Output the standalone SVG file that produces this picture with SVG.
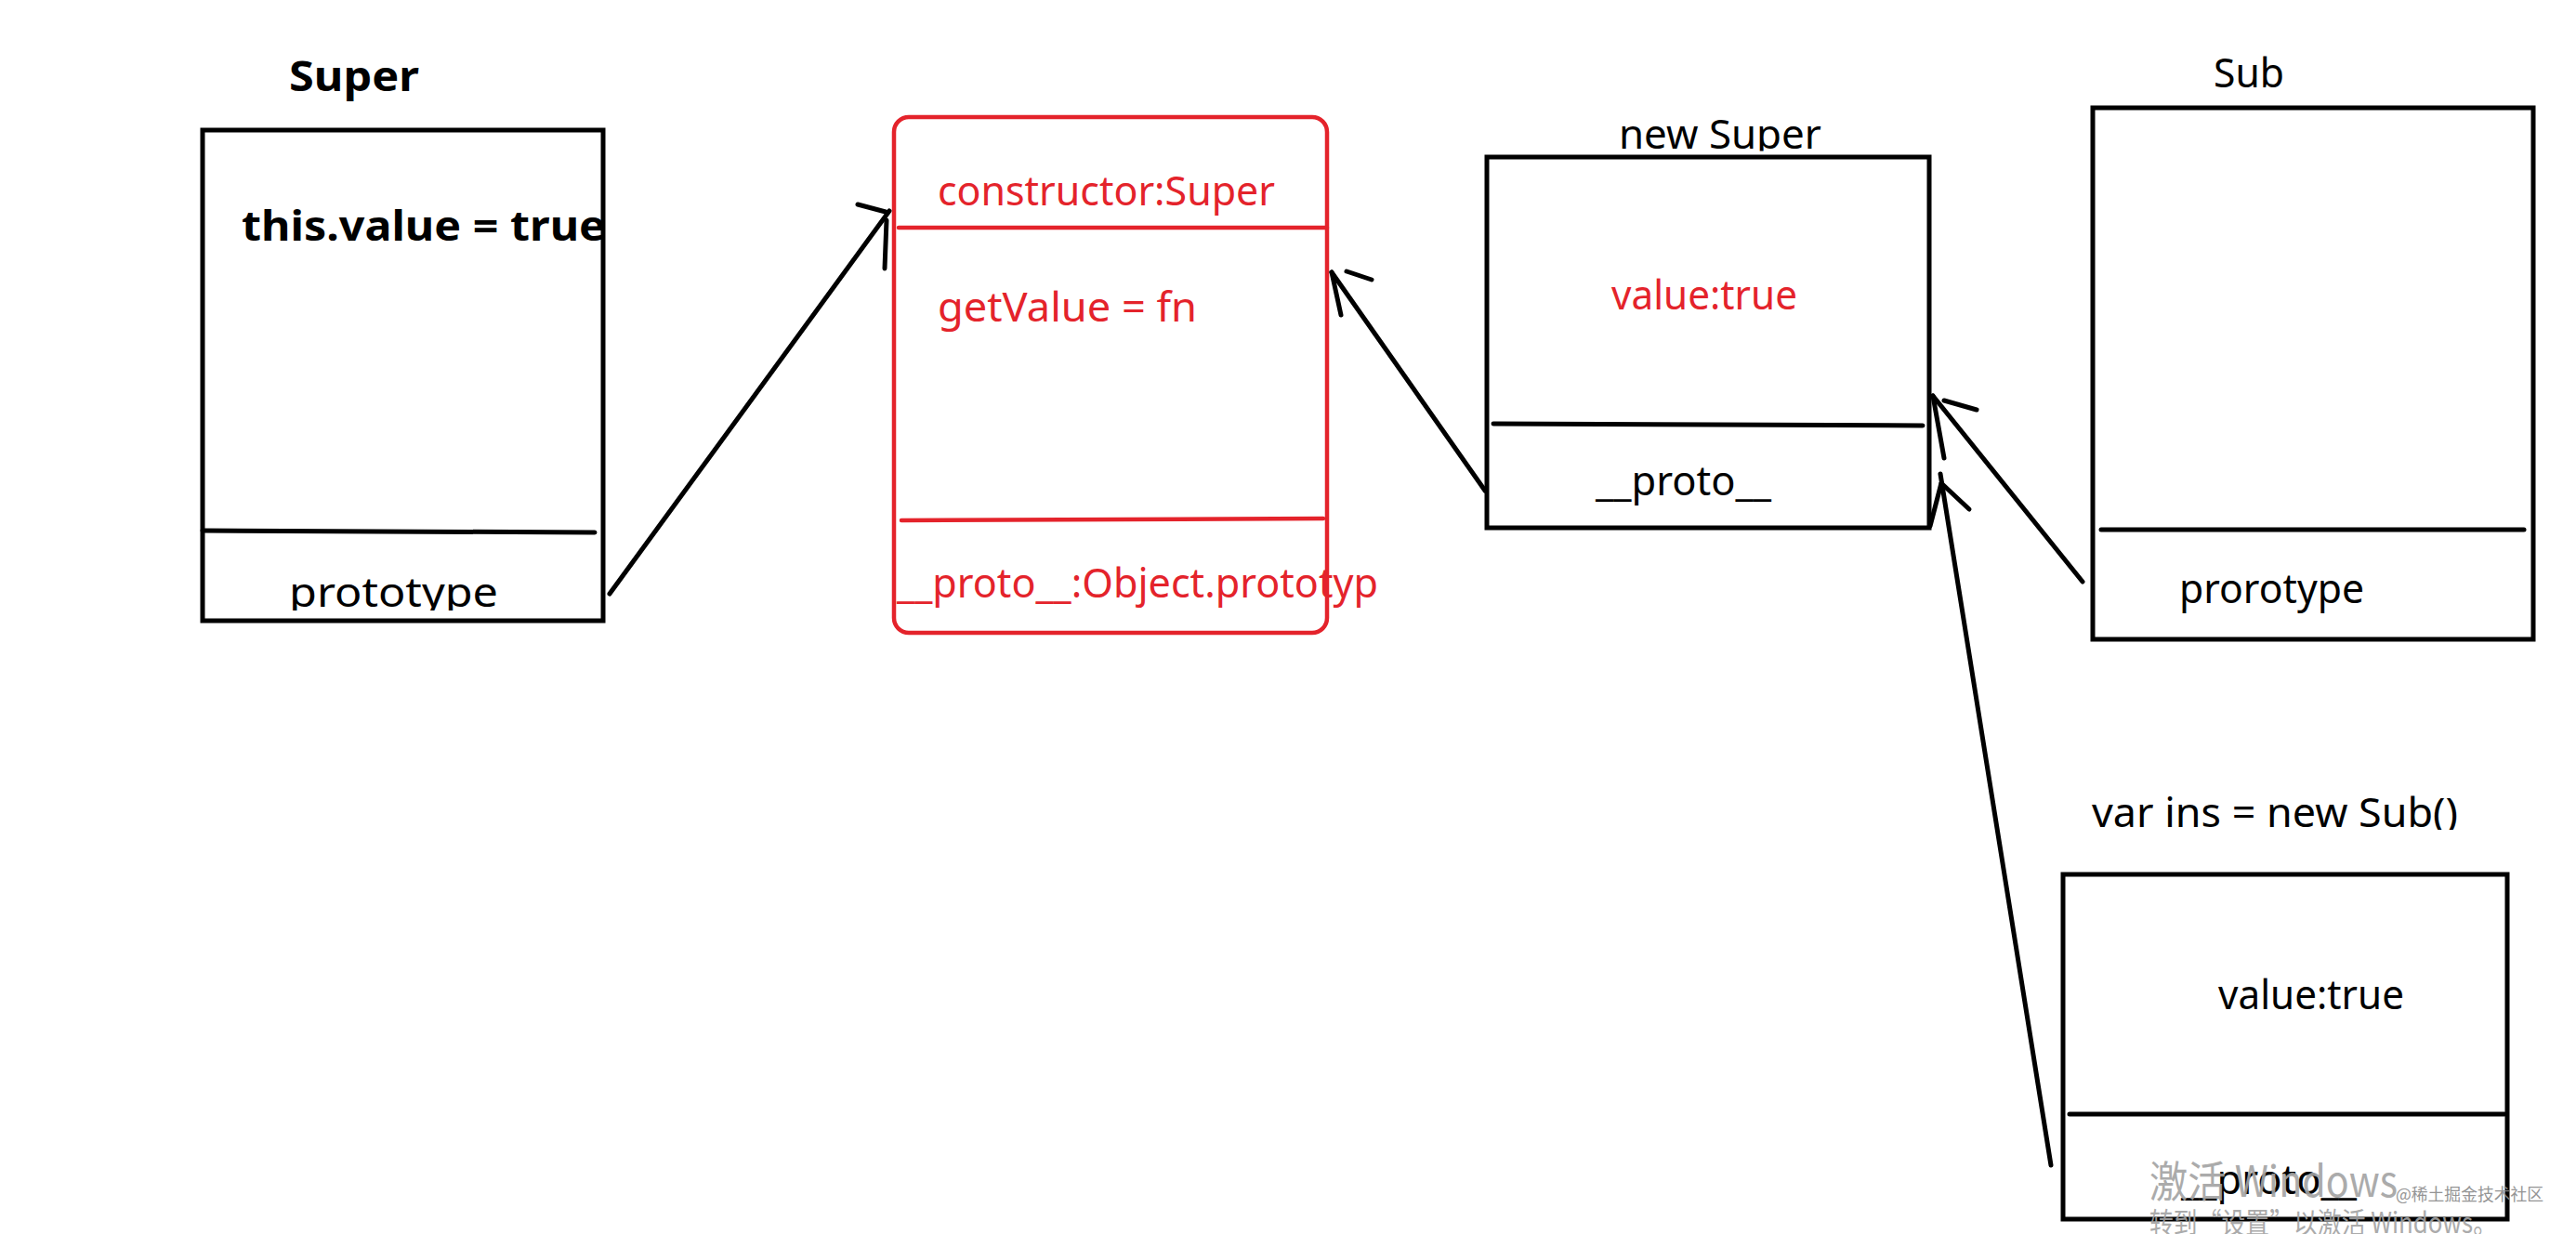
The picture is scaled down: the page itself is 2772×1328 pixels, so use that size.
<svg xmlns="http://www.w3.org/2000/svg" width="2772" height="1328" viewBox="0 0 2772 1328">
<style>
.box{fill:none;stroke:#000;stroke-width:5}
.rbox{fill:none;stroke:#e4232b;stroke-width:4.5}
.div{stroke:#000;stroke-width:5;stroke-linecap:round;fill:none}
.rdiv{stroke:#e4232b;stroke-width:4.5;stroke-linecap:round;fill:none}
.con{stroke:#000;stroke-width:5;stroke-linecap:round;fill:none}
.t{font-family:"Noto Sans","Liberation Sans",sans-serif;font-size:44px;fill:#000}
.b{font-weight:bold}
.r{fill:#e4232b}
.wm{font-family:"Noto Sans CJK SC","Noto Sans",sans-serif;fill:#a3a3a3}
</style>
<defs>
<clipPath id="clipProto"><rect x="0" y="600" width="700" height="57"/></clipPath>
<clipPath id="clipNew"><rect x="1700" y="100" width="300" height="62.5"/></clipPath>
<clipPath id="clipIns"><rect x="2200" y="840" width="500" height="53"/></clipPath>
</defs>
<rect width="2772" height="1328" fill="#fff"/>

<g id="node-super">
<text class="t b" x="311" y="98" font-size="48" textLength="140" lengthAdjust="spacingAndGlyphs">Super</text>
<rect class="box" x="218" y="140" width="431" height="528"/>
<line class="div" x1="218" y1="571" x2="640" y2="573"/>
<text class="t b" x="260" y="259" font-size="46" textLength="392" lengthAdjust="spacingAndGlyphs">this.value = true</text>
<text class="t" x="311" y="653" font-size="46" textLength="225" lengthAdjust="spacingAndGlyphs" clip-path="url(#clipProto)">prototype</text>
</g>

<g id="node-super-prototype">
<rect class="rbox" x="962" y="126" width="466" height="555" rx="16"/>
<line class="rdiv" x1="967" y1="245" x2="1428" y2="245"/>
<line class="rdiv" x1="970" y1="560" x2="1424" y2="558"/>
<text class="t r" x="1009" y="221" textLength="363" lengthAdjust="spacingAndGlyphs">constructor:Super</text>
<text class="t r" x="1009" y="346" textLength="279" lengthAdjust="spacingAndGlyphs">getValue = fn</text>
<text class="t r" x="965" y="643" textLength="518" lengthAdjust="spacingAndGlyphs">__proto__:Object.prototyp</text>
</g>

<g id="node-new-super">
<text class="t" x="1742" y="160" textLength="218" lengthAdjust="spacingAndGlyphs" clip-path="url(#clipNew)">new Super</text>
<rect class="box" x="1600" y="169" width="476" height="399"/>
<line class="div" x1="1607" y1="456" x2="2069" y2="458"/>
<text class="t r" x="1734" y="333" textLength="200" lengthAdjust="spacingAndGlyphs">value:true</text>
<text class="t" x="1717" y="533" textLength="189" lengthAdjust="spacingAndGlyphs">__proto__</text>
</g>

<g id="node-sub">
<text class="t" x="2382" y="94" textLength="76" lengthAdjust="spacingAndGlyphs">Sub</text>
<rect class="box" x="2252" y="116" width="474" height="572"/>
<line class="div" x1="2261" y1="570" x2="2716" y2="570"/>
<text class="t" x="2345" y="649" textLength="199" lengthAdjust="spacingAndGlyphs">prorotype</text>
</g>

<g id="node-ins">
<text class="t" x="2251" y="890" textLength="394" lengthAdjust="spacingAndGlyphs" clip-path="url(#clipIns)">var ins = new Sub()</text>
<rect class="box" x="2220" y="941" width="478" height="371"/>
<line class="div" x1="2227" y1="1199" x2="2695" y2="1199"/>
<text class="t" x="2387" y="1086" textLength="200" lengthAdjust="spacingAndGlyphs">value:true</text>
<text class="t" x="2347" y="1285" textLength="189" lengthAdjust="spacingAndGlyphs">__proto__</text>
</g>

<g id="connectors">
<line class="con" x1="656" y1="639" x2="957" y2="227"/>
<line class="con" x1="923" y1="220" x2="953" y2="228"/>
<line class="con" x1="954" y1="237" x2="952" y2="289"/>

<line class="con" x1="1598" y1="528" x2="1433" y2="293"/>
<line class="con" x1="1433" y1="293" x2="1443" y2="339"/>
<line class="con" x1="1449" y1="292" x2="1476" y2="301"/>

<line class="con" x1="2241" y1="626" x2="2080" y2="426"/>
<line class="con" x1="2080" y1="426" x2="2092" y2="493"/>
<line class="con" x1="2092" y1="431" x2="2127" y2="441"/>

<line class="con" x1="2207" y1="1254" x2="2088" y2="510"/>
<line class="con" x1="2089" y1="520" x2="2119" y2="548"/>
<line class="con" x1="2089" y1="520" x2="2077" y2="566"/>
</g>

<g id="watermark" opacity="0.9">
<text class="wm" x="2313" y="1288" font-size="46" textLength="267" lengthAdjust="spacingAndGlyphs">激活 Windows</text>
<text class="wm" x="2313" y="1327" font-size="31" textLength="374" lengthAdjust="spacingAndGlyphs">转到“设置”以激活 Windows。</text>
<text class="wm" x="2578" y="1292" font-size="18" fill="#8a8a8a" textLength="159" lengthAdjust="spacingAndGlyphs" style="fill:#8a8a8a">@稀土掘金技术社区</text>
</g>
</svg>
